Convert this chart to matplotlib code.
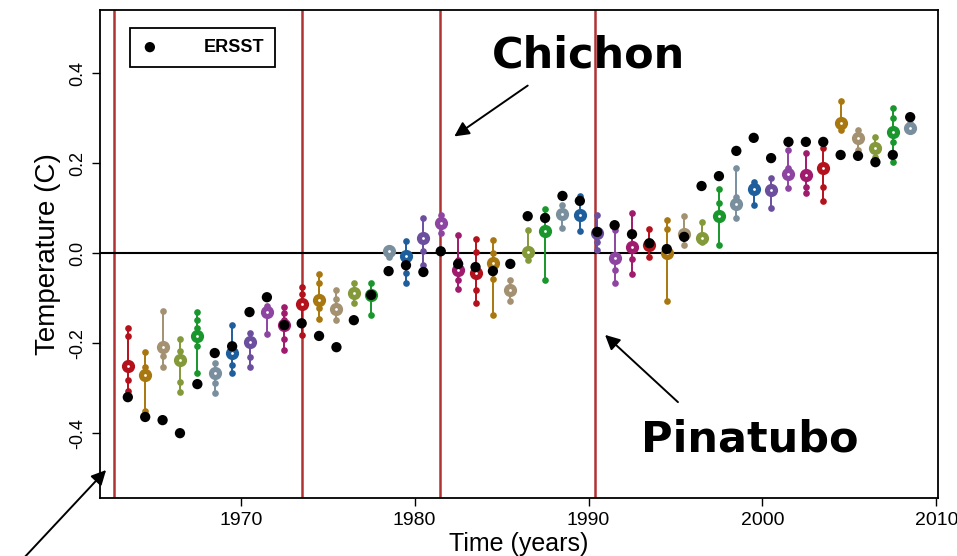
import matplotlib.pyplot as plt
from matplotlib.patches import FancyArrowPatch

# annual global SST anomalies: observed (ERSST) and ensemble spread
years = list(range(1963, 2009))

ersst = [-0.320, -0.364, -0.371, -0.400, -0.291, -0.222, -0.207, -0.131, -0.098, -0.160,
         -0.156, -0.184, -0.209, -0.149, -0.093, -0.040, -0.027, -0.042, 0.004, -0.024,
         -0.031, -0.040, -0.024, 0.082, 0.078, 0.127, 0.116, 0.047, 0.062, 0.042,
         0.022, 0.009, 0.036, 0.149, 0.171, 0.227, 0.256, 0.211, 0.247, 0.247,
         0.247, 0.218, 0.216, 0.202, 0.218, 0.302]

ens_mean = [-0.251, -0.271, -0.209, -0.238, -0.184, -0.267, -0.222, -0.198, -0.131, -0.160,
            -0.113, -0.104, -0.124, -0.089, -0.093, 0.004, -0.007, 0.033, 0.067, -0.038,
            -0.044, -0.022, -0.082, 0.002, 0.049, 0.087, 0.084, 0.045, -0.011, 0.013,
            0.018, 0.000, 0.042, 0.033, 0.082, 0.109, 0.142, 0.140, 0.176, 0.173,
            0.189, 0.289, 0.256, 0.233, 0.269, 0.278]

members = [
    [-0.167, -0.184, -0.282, -0.307],
    [-0.220, -0.253, -0.351],
    [-0.129, -0.229, -0.253],
    [-0.191, -0.218, -0.287, -0.309],
    [-0.131, -0.149, -0.167, -0.207, -0.267],
    [-0.245, -0.289, -0.311],
    [-0.160, -0.249, -0.267],
    [-0.178, -0.231, -0.253],
    [-0.118, -0.180],
    [-0.120, -0.133, -0.149, -0.191, -0.216],
    [-0.076, -0.090, -0.156, -0.182],
    [-0.047, -0.067, -0.122, -0.147],
    [-0.082, -0.102, -0.149],
    [-0.067, -0.111],
    [-0.067, -0.138],
    [0.012, -0.008],
    [0.027, -0.044, -0.067],
    [0.078, 0.004, -0.027],
    [0.084, 0.044],
    [0.040, -0.016, -0.060, -0.080],
    [0.031, 0.002, -0.082, -0.111],
    [0.029, 0.000, -0.058, -0.138],
    [-0.060, -0.107],
    [0.051, -0.016],
    [0.098, 0.082, -0.060],
    [0.107, 0.056],
    [0.127, 0.049],
    [0.084, 0.024, 0.007],
    [0.051, -0.038, -0.067],
    [0.089, -0.013, -0.047],
    [0.053, -0.009],
    [0.073, 0.053, -0.107],
    [0.082, 0.018],
    [0.069, 0.025],
    [0.142, 0.111, 0.018],
    [0.189, 0.124, 0.078],
    [0.158, 0.107],
    [0.167, 0.100],
    [0.229, 0.189, 0.144],
    [0.222, 0.147, 0.133],
    [0.233, 0.147, 0.116],
    [0.338, 0.273],
    [0.273, 0.229],
    [0.258, 0.213],
    [0.322, 0.300, 0.247, 0.202],
    [0.290],
]

# volcanic eruptions: Agung, Fuego, El Chichon, Pinatubo
eruptions = [1962.7, 1973.5, 1981.45, 1990.35]

palette = ['#b3121d', '#a8770f', '#a39172', '#83993a', '#19962c',
           '#7a8f9e', '#1f5e9c', '#6b4e9e', '#8e45a1', '#a01a6d']

plt.rcParams['font.family'] = ['Liberation Sans Narrow', 'Liberation Sans', 'DejaVu Sans']

W, H = 957, 556
fig = plt.figure(figsize=(W / 100, H / 100), dpi=100)
ax = fig.add_axes([100 / W, 1 - 498 / H, 838 / W, 488 / H])

xpos = [y + 0.5 for y in years]

for x in eruptions:
    ax.axvline(x, color='#b03232', lw=1.8, zorder=1)
ax.axhline(0, color='black', lw=1.5, zorder=1)

for i, x in enumerate(xpos):
    c = palette[i % len(palette)]
    vals = members[i] + [ens_mean[i]]
    ax.plot([x, x], [min(vals), max(vals)], color=c, lw=1.4, zorder=2)
    ax.plot([x] * len(members[i]), members[i], 'o', color=c, ms=4.8, mec='none', zorder=3)
    ax.plot(x, ens_mean[i], 'o', color=c, ms=9.5, mec='none', zorder=4)
    ax.plot(x, ens_mean[i], 'o', color='white', ms=2, mec='none', zorder=5)

ax.scatter(xpos, ersst, s=55, color='black', edgecolors='none', zorder=6, label='ERSST')

ax.set_xlim(1961.9, 2010.1)
ax.set_ylim(-0.544, 0.54)
ax.set_xticks([1970, 1980, 1990, 2000, 2010])
ax.set_yticks([-0.4, -0.2, 0.0, 0.2, 0.4])
ax.set_yticklabels(['%.1f' % v for v in [-0.4, -0.2, 0.0, 0.2, 0.4]],
                   rotation=90, va='center')
ax.tick_params(axis='x', direction='out', length=6, width=1, labelsize=14, pad=4)
ax.tick_params(axis='y', direction='out', length=6, width=1, labelsize=13, pad=4)
for s in ax.spines.values():
    s.set_linewidth(1.3)

ax.set_xlabel('Time (years)', fontsize=18, labelpad=2)
ax.set_ylabel('Temperature (C)', fontsize=20, labelpad=6)

leg = ax.legend(loc='upper left', bbox_to_anchor=(0.0358, 0.963), borderaxespad=0,
                frameon=True, fancybox=False, edgecolor='black', framealpha=1,
                handletextpad=2.5, borderpad=0.6, handlelength=1.0,
                prop={'weight': 'bold', 'size': 13})
leg.get_frame().set_linewidth(1.3)

# annotations for the eruptions
fig.text(589 / W, 1 - 56 / H, 'Chichon', family='DejaVu Sans', weight='bold',
         fontsize=31, ha='center', va='center')
fig.text(750 / W, 1 - 440 / H, 'Pinatubo', family='DejaVu Sans', weight='bold',
         fontsize=31, ha='center', va='center')


def arrow(tail, head):
    fig.add_artist(FancyArrowPatch((tail[0] / W, 1 - tail[1] / H), (head[0] / W, 1 - head[1] / H),
                                   transform=fig.transFigure, arrowstyle='-|>',
                                   mutation_scale=22, lw=1.4, color='black'))


arrow((530, 84), (452, 138))
arrow((680, 404), (603, 333))
arrow((22, 560), (108, 468))

fig.savefig('out.png', dpi=100)
